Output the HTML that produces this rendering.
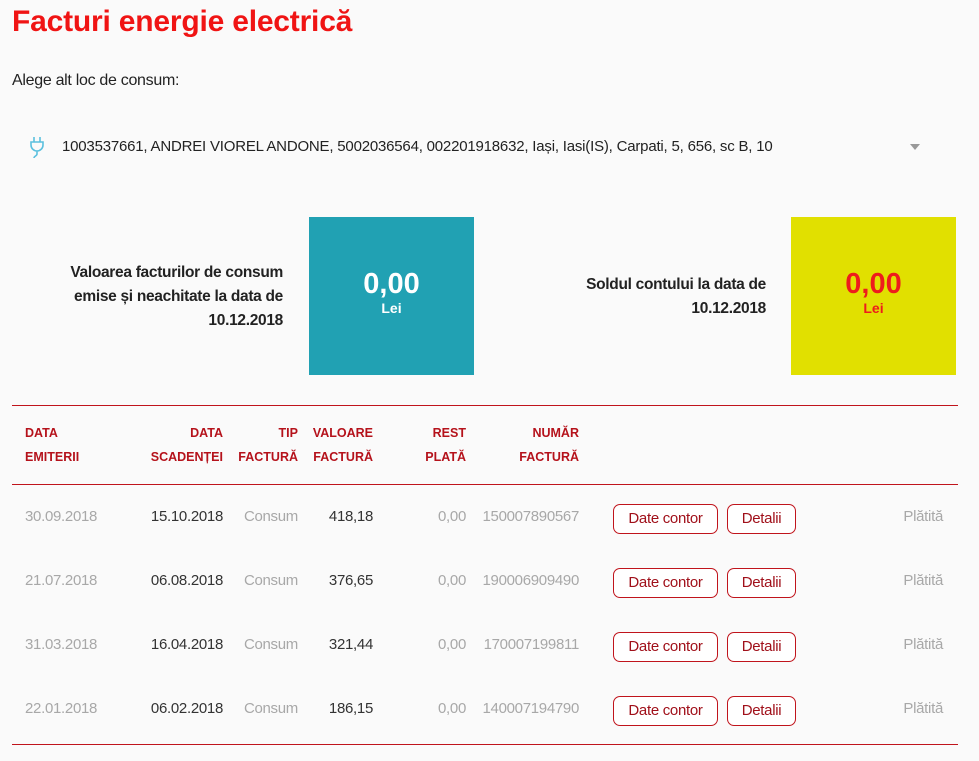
<!DOCTYPE html>
<html><head><meta charset="utf-8">
<style>
body{margin:0;width:979px;height:761px;background:#fafafa;font-family:"Liberation Sans",sans-serif;position:relative;overflow:hidden;color:#222}
.a{position:absolute;white-space:nowrap}
.hd{color:#b5121b;font-weight:bold;font-size:12.5px;line-height:24px;text-align:right}
.line{position:absolute;left:12px;width:946px;height:1px;background:#c0141c}
.cell{position:absolute;font-size:15px;line-height:20px;white-space:nowrap;letter-spacing:-0.3px}
.g{color:#a8a8a8}.d{color:#333}
.btn{position:absolute;height:28px;border:1px solid #c0141c;border-radius:7px;color:#a0101a;font-size:15px;line-height:28px;text-align:center;background:#fff;letter-spacing:-0.3px}
</style></head><body>
<div class="a" style="left:12px;top:5px;font-size:30px;font-weight:bold;color:#f01414;letter-spacing:-0.2px">Facturi energie electrică</div>
<div class="a" style="left:12px;top:72px;font-size:16px;letter-spacing:-0.3px">Alege alt loc de consum:</div>
<div class="a" style="left:12px;top:130px;width:946px;height:34px">
 <svg style="position:absolute;left:17px;top:6px" width="16" height="24" viewBox="0 0 16 24"><path d="M5 1v5M11 1v5M2 6h12v3a6 6 0 0 1-12 0z M8 15v3c0 2-3 2-3 4" fill="none" stroke="#5bc0de" stroke-width="1.6"/></svg>
 <div class="a" style="left:50px;top:8px;font-size:15px;letter-spacing:-0.2px">1003537661, ANDREI VIOREL ANDONE, 5002036564, 002201918632, Iași, Iasi(IS), Carpati, 5, 656, sc B, 10</div>
 <div class="a" style="left:898px;top:14px;width:0;height:0;border-left:5px solid transparent;border-right:5px solid transparent;border-top:6px solid #999"></div>
</div>
<div class="a" style="right:696px;top:261px;font-size:15.5px;font-weight:bold;line-height:24px;text-align:right;letter-spacing:-0.3px">Valoarea facturilor de consum<br>emise și neachitate la data de<br>10.12.2018</div>
<div class="a" style="left:309px;top:217px;width:165px;height:158px;background:#21a1b3;color:#fff;text-align:center">
 <div style="margin-top:51px;font-size:29px;font-weight:bold;line-height:32px">0,00</div><div style="font-size:14px;font-weight:bold">Lei</div></div>
<div class="a" style="right:213px;top:273px;font-size:15.5px;font-weight:bold;line-height:24px;text-align:right;letter-spacing:-0.3px">Soldul contului la data de<br>10.12.2018</div>
<div class="a" style="left:791px;top:217px;width:165px;height:158px;background:#e1e000;color:#ee1c1c;text-align:center">
 <div style="margin-top:51px;font-size:29px;font-weight:bold;line-height:32px">0,00</div><div style="font-size:14px;font-weight:bold">Lei</div></div>
<div class="line" style="top:405px"></div>
<div class="a hd" style="left:25px;top:421px;text-align:left">DATA<br>EMITERII</div>
<div class="a hd" style="right:756px;top:421px">DATA<br>SCADENȚEI</div>
<div class="a hd" style="right:681px;top:421px">TIP<br>FACTURĂ</div>
<div class="a hd" style="right:606px;top:421px">VALOARE<br>FACTURĂ</div>
<div class="a hd" style="right:513px;top:421px">REST<br>PLATĂ</div>
<div class="a hd" style="right:400px;top:421px">NUMĂR<br>FACTURĂ</div>
<div class="line" style="top:484px"></div>
<div class="line" style="top:744px"></div>
<div id="rows"></div>
<script>
const emitted=["30.09.2018","21.07.2018","31.03.2018","22.01.2018"];
const due=["15.10.2018","06.08.2018","16.04.2018","06.02.2018"];
const amounts=["418,18","376,65","321,44","186,15"];
const rest=["0,00","0,00","0,00","0,00"];
const numbers=["150007890567","190006909490","170007199811","140007194790"];
const rowsEl=document.getElementById('rows');
function cell(parent,txt,cls,style,name){const d=document.createElement('div');d.className='cell '+cls;d.textContent=txt;d.style.cssText=style;


parent.appendChild(d);return d;}
emitted.forEach((e,i)=>{
 const y=507+i*64;
 const r=document.createElement('div');
 
 
 rowsEl.appendChild(r);
 cell(r,e,'g','left:25px;top:'+y+'px','issue-date');
 cell(r,due[i],'d','right:756px;top:'+y+'px','due-date');
 cell(r,'Consum','g','right:681px;top:'+y+'px','invoice-type');
 cell(r,amounts[i],'d','right:606px;top:'+y+'px','invoice-amount');
 cell(r,rest[i],'g','right:513px;top:'+y+'px','remaining-amount');
 cell(r,numbers[i],'g','right:400px;top:'+y+'px','invoice-number');
 cell(r,'Plătită','g','right:36px;top:'+y+'px','payment-status');
 const b1=document.createElement('div');b1.className='btn';b1.textContent='Date contor';b1.style.cssText='left:613px;top:'+(y-3)+'px;width:103px';
 
 
 r.appendChild(b1);
 const b2=document.createElement('div');b2.className='btn';b2.textContent='Detalii';b2.style.cssText='left:727px;top:'+(y-3)+'px;width:67px';
 
 
 r.appendChild(b2);
});
</script>
</body></html>
